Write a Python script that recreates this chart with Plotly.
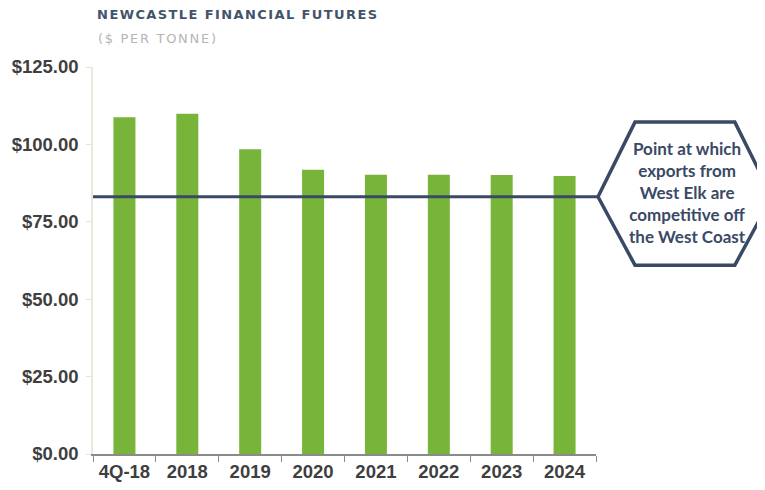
import plotly.graph_objects as go

categories = ["4Q-18", "2018", "2019", "2020", "2021", "2022", "2023", "2024"]
prices = [108.8, 109.9, 98.4, 91.8, 90.2, 90.2, 90.1, 89.8]
threshold = 83.1
y_ticks = [0, 25, 50, 75, 100, 125]
y_tick_labels = ["$0.00", "$25.00", "$50.00", "$75.00", "$100.00", "$125.00"]
callout_text = "Point at which<br>exports from<br>West Elk are<br>competitive off<br>the West Coast"

NAVY = "#3a4965"
GREEN = "#79b43a"

fig = go.Figure()
fig.add_trace(go.Bar(
    x=categories, y=prices, width=0.35,
    marker=dict(color=GREEN, line=dict(width=0)),
    hoverinfo="x+y",
))

# threshold line
fig.add_shape(type="line", xref="paper", yref="y", x0=0, x1=1.004,
              y0=threshold, y1=threshold, line=dict(color=NAVY, width=3))

# hexagon callout (paper x, data y around threshold)
hx = [1.004, 1.0775, 1.276, 1.35, 1.276, 1.0775]
hy = [threshold, threshold + 24.1, threshold + 24.1, threshold,
      threshold - 22.1, threshold - 22.1]
path = "M " + " L ".join(f"{a},{b}" for a, b in zip(hx, hy)) + " Z"
fig.add_shape(type="path", xref="paper", yref="y", path=path,
              line=dict(color=NAVY, width=3.5), fillcolor="white")

fig.add_annotation(xref="paper", yref="y", x=1.181, y=threshold + 1.3,
                   xanchor="center", yanchor="middle",
                   text=callout_text, showarrow=False,
                   font=dict(family="Lato", size=17, color=NAVY, weight="bold"),
                   align="center")

# titles
fig.add_annotation(xref="paper", yref="paper", x=0.0, y=1.0, xanchor="left",
                   yanchor="bottom", yshift=43, xshift=21, showarrow=False,
                   text="NEWCASTLE FINANCIAL FUTURES",
                   font=dict(family="DejaVu Sans", size=13, color="#44536b", weight="bold"))
fig.add_annotation(xref="paper", yref="paper", x=0.0, y=1.0, xanchor="left",
                   yanchor="bottom", yshift=19, xshift=14, showarrow=False,
                   text="($ PER TONNE)",
                   font=dict(family="DejaVu Sans", size=13, color="#b5b5b5"))

fig.update_layout(
    width=765, height=490,
    margin=dict(l=85, r=177, t=59, b=44),
    plot_bgcolor="white", paper_bgcolor="white",
    showlegend=False,
)
fig.update_xaxes(
    type="category", tickson="boundaries", ticks="outside", ticklen=6,
    tickcolor="#8a8a8a", showline=True, linecolor="#8a8a8a", linewidth=1.5,
    showgrid=False, automargin=False,
    tickfont=dict(family="Liberation Sans", size=18.5, color="#3f3f3f", weight="bold"),
)
fig.update_yaxes(
    range=[0, 125], tickvals=y_ticks, ticktext=y_tick_labels,
    ticks="outside", ticklen=5, tickcolor="#e6e2d6", ticklabelstandoff=4,
    showline=True, linecolor="#ebe7dc", linewidth=1.5,
    showgrid=False, zeroline=False, automargin=False,
    tickfont=dict(family="Liberation Sans", size=18.5, color="#3f3f3f", weight="bold"),
)

spacing_js = """
var gd = document.getElementById('{plot_id}');
function spaceTitles() {
  gd.querySelectorAll('.annotation-text').forEach(function (t) {
    var s = t.textContent || '';
    if (s.indexOf('NEWCASTLE') === 0) { t.style.letterSpacing = '1.4px'; }
    else if (s.indexOf('($ PER') === 0) { t.style.letterSpacing = '1.7px'; }
  });
}
spaceTitles();
gd.on && gd.on('plotly_afterplot', spaceTitles);
"""

fig.write_html("out.html", post_script=spacing_js)
